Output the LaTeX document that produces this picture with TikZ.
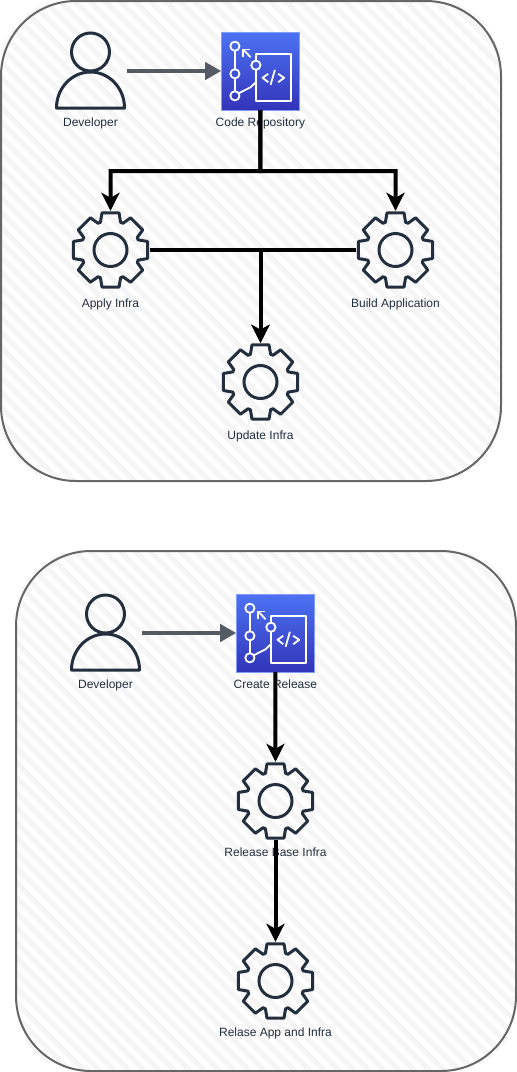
\documentclass[tikz,border=0pt]{standalone}
\usepackage{fontspec}
\setmainfont{Liberation Sans}
\usetikzlibrary{positioning,arrows.meta}

\definecolor{inkdark}{HTML}{232F3E}
\definecolor{arrowgray}{HTML}{545B64}
\definecolor{hatchgray}{HTML}{F5F5F5}
\definecolor{boxgray}{HTML}{666666}
\definecolor{repotop}{HTML}{4D72F3}
\definecolor{repobottom}{HTML}{3334B9}

\tikzset{
  lbl/.style={text=inkdark, font=\fontsize{12}{14}\selectfont, inner sep=0pt, label distance=7.5pt},
  lblgear/.style={lbl, label distance=9pt},
  icon/.style={minimum width=78pt, minimum height=78pt, inner sep=0pt},
  flow/.style={draw=black, line width=4pt, -{Stealth[length=18pt,width=18pt,inset=5pt]}},
  push/.style={draw=arrowgray, line width=4pt, shorten <=1.5pt, -{Triangle[length=16pt,width=17pt]}},
  person/.pic={
    \draw[inkdark, line width=3pt] (0,-19) circle (19);
    \draw[inkdark, line width=3pt, line join=round] (-34,37) arc[start angle=180, end angle=360, x radius=34, y radius=36] -- cycle;
  },
  gear/.pic={
    \draw[inkdark, line width=3pt, line join=round]
      (-13:38) -- (13:38) -- (20:29.5)
      \foreach \a in {45,90,...,315} { -- ({\a-20}:29.5) -- ({\a-13}:38) -- ({\a+13}:38) -- ({\a+20}:29.5) }
      -- (-20:29.5) -- cycle;
    \draw[inkdark, line width=3pt] (0,0) circle (16.5);
  },
  repo/.pic={
    \shade[top color=repotop, bottom color=repobottom] (-39,-39) rectangle (39,39);
    \draw[white!30!repotop, line width=0.8pt] (-39,-39) rectangle (39,39);
    \begin{scope}[white, line width=1.8pt, line join=round]
      \draw (-25.5,-24.8) circle (4.6);
      \draw (-25.5,2.8) circle (4.6);
      \draw (-25.5,24.8) circle (4.6);
      \draw (-4.5,-5.8) circle (4.6);
      \draw (-25.5,-20.2) -- (-25.5,-1.8);
      \draw (-25.5,7.4) -- (-25.5,20.2);
      \draw (-21.5,22.2) -- (-9.8,16.2) -- (-4.5,11.2) -- (-4.5,-1.2);
      \draw (-9.8,-13.8) -- (-17.2,-21.5);
      \draw (-10,-21.5) -- (-17.2,-21.5) -- (-17.2,-14);
      \draw (-4.5,-10.4) -- (-4.5,-17.2) -- (30.5,-17.2) -- (30.5,29.8) -- (-4.5,29.8) -- (-4.5,11.2);
      \draw (7.8,2.8) -- (2.2,6.8) -- (7.8,11.2);
      \draw (17.8,2.8) -- (23.8,6.8) -- (17.8,11.2);
      \draw (14.5,-1.2) -- (10.2,13.8);
    \end{scope}
  }
}

\begin{document}
\begin{tikzpicture}[x=1pt, y=-1pt]
    \useasboundingbox (0,0) rectangle (517,1072);

    % containers
    \foreach \bx/\by/\bw/\bh in {1/1/500/480, 16/551/500/520} {
      \begin{scope}
        \clip[rounded corners=65pt] (\bx,\by) rectangle ++(\bw,\bh);
        \fill[white] (\bx,\by) rectangle ++(\bw,\bh);
        \foreach \s in {-600,-585,...,600}
          \draw[hatchgray, line width=5.3pt] (\s,\by) -- ++({\bh},{\bh});
      \end{scope}
      \draw[boxgray, line width=2pt, rounded corners=75pt] (\bx,\by) rectangle ++(\bw,\bh);
    }

    % top diagram
    \node[icon, minimum width=70pt, label={[lbl]below:Developer}] (dev1) at (90.5,71) {};
    \node[icon, label={[lbl]below:Code Repository}, right = 95.5pt of dev1] (repo1) {};
    \coordinate (split1) at (260.5,171);
    \node[icon, label={[lblgear]below:Apply Infra}] (apply) at (110.5,250) {};
    \node[icon, label={[lblgear]below:Build Application}] (build) at (395.5,250) {};
    \node[icon, label={[lblgear]below:Update Infra}] (update) at (260.5,382) {};
    \coordinate (merge1) at (260.5,250);

    \pic at (dev1) {person};
    \pic at (repo1) {repo};
    \pic at (apply) {gear};
    \pic at (build) {gear};
    \pic at (update) {gear};

    \draw[push] (dev1) -- (repo1);
    \draw[flow] (repo1.south) -- (split1) -| (apply.north);
    \draw[flow] (repo1.south) -- (split1) -| (build.north);
    \draw[flow] (apply.east) -- (merge1) -- (update.north);
    \draw[flow] (build.west) -- (merge1) -- (update.north);

    % bottom diagram
    \node[icon, minimum width=70pt, label={[lbl]below:Developer}] (dev2) at (105.5,633) {};
    \node[icon, label={[lbl]below:Create Release}, right = 95.5pt of dev2] (repo2) {};
    \node[icon, label={[lbl]below:Release Base Infra}] (base) at (275.5,801) {};
    \node[icon, label={[lbl]below:Relase App and Infra}] (app) at (275.5,981) {};

    \pic at (dev2) {person};
    \pic at (repo2) {repo};
    \pic at (base) {gear};
    \pic at (app) {gear};

    \draw[push] (dev2) -- (repo2);
    \draw[flow] (repo2) -- (base);
    \draw[flow] (base) -- (app);
\end{tikzpicture}
\end{document}
